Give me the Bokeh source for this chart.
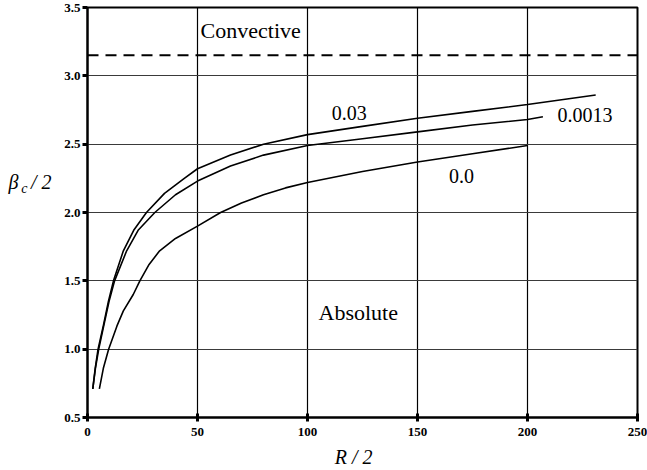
from bokeh.plotting import figure
from bokeh.models import (Range1d, FixedTicker, NumeralTickFormatter, Label, Span,
                          ColumnDataSource, LinearAxis)
from bokeh.core.properties import value
from bokeh.embed import file_html
from bokeh.resources import INLINE

# Critical-curve data: beta_c/2 against R/2 for three parameter values
r_003 = [2.4, 3.5, 4.8, 7.3, 9.5, 11.8, 16.3, 21, 26.8, 35, 44, 50, 65, 80, 100, 125, 150, 175, 200, 231]
b_003 = [0.71, 0.86, 1.0, 1.18, 1.35, 1.5, 1.72, 1.87, 2.0, 2.14, 2.25, 2.32, 2.42, 2.5, 2.57, 2.63, 2.69, 2.74, 2.79, 2.86]

r_00013 = [2.4, 3.6, 5.1, 7.5, 9.8, 12.3, 17.8, 23, 30.6, 40, 50, 65, 80, 100, 125, 150, 175, 200, 207]
b_00013 = [0.71, 0.86, 1.0, 1.18, 1.35, 1.5, 1.72, 1.87, 2.0, 2.13, 2.23, 2.34, 2.42, 2.49, 2.54, 2.59, 2.64, 2.68, 2.70]

r_0 = [5.4, 7.2, 9.6, 13.4, 16.3, 20.8, 23.8, 28, 32.8, 40, 50, 60.5, 70, 80, 90, 100, 125, 150, 175, 200]
b_0 = [0.71, 0.86, 1.0, 1.17, 1.28, 1.40, 1.5, 1.62, 1.72, 1.81, 1.90, 2.0, 2.07, 2.13, 2.18, 2.22, 2.30, 2.37, 2.43, 2.49]

# Convective / absolute boundary as R -> infinity
b_limit = 3.15

x_ticks = [0, 50, 100, 150, 200, 250]
y_ticks = [0.5, 1.0, 1.5, 2.0, 2.5, 3.0, 3.5]

curve_labels = ["0.03", "0.0013", "0.0"]
label_x = [119, 213.6, 170]
label_y = [2.73, 2.71, 2.27]
label_align = ["center", "left", "center"]

SERIF = "Liberation Serif"
TICK_FONT = "Liberation Sans Narrow"

p = figure(width=647, height=470, output_backend="svg", toolbar_location=None,
           x_range=Range1d(0, 250), y_range=Range1d(0.5, 3.5),
           min_border_left=87, min_border_right=10, min_border_top=7, min_border_bottom=52)

p.background_fill_color = "white"
p.border_fill_color = "white"
p.outline_line_color = "black"
p.outline_line_width = 2

# axes
for ax in (p.xaxis[0], p.yaxis[0]):
    ax.axis_line_color = "black"
    ax.axis_line_width = 2
    ax.minor_tick_line_color = None
    ax.major_tick_line_color = "black"
    ax.major_tick_line_width = 3
    ax.major_label_text_font = TICK_FONT
    ax.major_label_text_font_style = "bold"
    ax.major_label_text_font_size = "13px"
    ax.major_label_text_color = "black"

p.xaxis.ticker = FixedTicker(ticks=x_ticks)
p.yaxis.ticker = FixedTicker(ticks=y_ticks)
p.yaxis.formatter = NumeralTickFormatter(format="0.0")
p.xaxis.formatter = NumeralTickFormatter(format="0")
p.xaxis.major_tick_in = 4
p.xaxis.major_tick_out = 4
p.xaxis.major_label_standoff = 6
p.yaxis.major_tick_in = 0
p.yaxis.major_tick_out = 5
p.yaxis.major_label_standoff = 2


# axis titles: each piece is a single, line-less tick label on its own axis,
# so it sits in the margin at an exact data position
def title_axis(side, at, text, size, standoff):
    ax = LinearAxis(ticker=FixedTicker(ticks=[at]), major_label_overrides={at: text},
                    axis_line_color=None, major_tick_line_color=None,
                    minor_tick_line_color=None, major_tick_in=0, major_tick_out=0,
                    major_label_standoff=standoff, major_label_text_font=SERIF,
                    major_label_text_font_style="italic",
                    major_label_text_font_size=size, major_label_text_color="black")
    p.add_layout(ax, side)


title_axis("left", 2.22, "/ 2", "20px", 10)
title_axis("left", 2.175, "c", "14px", 0)
title_axis("left", 2.22, "β", "20px", 0)
title_axis("below", 121, "R / 2", "20px", 7)

# grid
p.xgrid.ticker = FixedTicker(ticks=x_ticks)
p.ygrid.ticker = FixedTicker(ticks=y_ticks)
p.xgrid.grid_line_color = "black"
p.xgrid.grid_line_width = 1.2
p.xgrid.grid_line_alpha = 1.0
p.ygrid.grid_line_color = "#3a3a3a"
p.ygrid.grid_line_width = 1
p.ygrid.grid_line_alpha = 1.0

# boundary line
p.add_layout(Span(location=b_limit, dimension="width", line_color="black",
                  line_width=2, line_dash="11 7"))

# curves
for xs, ys in ((r_003, b_003), (r_00013, b_00013), (r_0, b_0)):
    p.line(xs, ys, line_color="black", line_width=1.6)

# curve labels
src = ColumnDataSource(dict(x=label_x, y=label_y, t=curve_labels, a=label_align))
p.text(x="x", y="y", text="t", text_align="a", source=src, text_baseline="middle",
       text_font=value(SERIF), text_font_size="20px", text_color="black")

# region labels
p.add_layout(Label(x=51.4, y=3.33, text="Convective", text_align="left", text_baseline="middle",
                   text_font=SERIF, text_font_size="22px", text_color="black"))
p.add_layout(Label(x=105, y=1.27, text="Absolute", text_align="left", text_baseline="middle",
                   text_font=SERIF, text_font_size="22px", text_color="black"))

open("out.html", "w").write(file_html(p, INLINE))
